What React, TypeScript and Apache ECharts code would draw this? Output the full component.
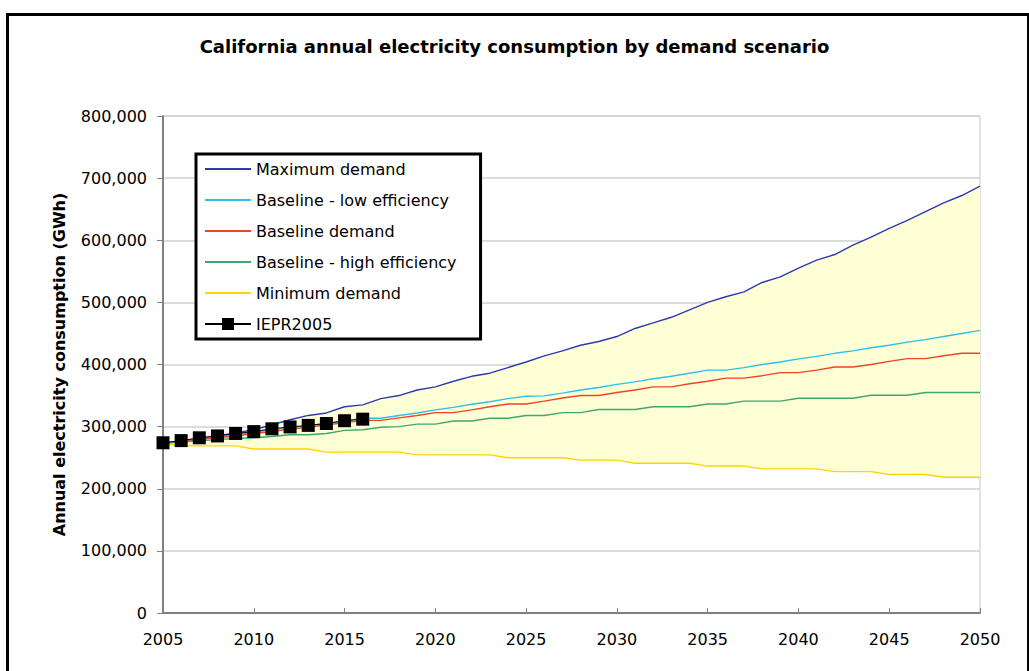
import React, { useEffect, useRef } from "react";
import * as echarts from "echarts";

const years = [
  2005, 2006, 2007, 2008, 2009, 2010, 2011, 2012, 2013, 2014, 2015, 2016,
  2017, 2018, 2019, 2020, 2021, 2022, 2023, 2024, 2025, 2026, 2027, 2028,
  2029, 2030, 2031, 2032, 2033, 2034, 2035, 2036, 2037, 2038, 2039, 2040,
  2041, 2042, 2043, 2044, 2045, 2046, 2047, 2048, 2049, 2050,
];

const maximumDemand = [
  273000, 277000, 281000, 285000, 290000, 295000, 303000, 311000, 318000, 322000,
  332000, 335000, 345000, 350000, 359000, 364000, 373000, 381000, 386000, 395000,
  404000, 414000, 422000, 431000, 437000, 445000, 458000, 467000, 476000, 488000,
  500000, 509000, 517000, 532000, 541000, 555000, 568000, 577000, 592000, 605000,
  619000, 632000, 646000, 660000, 672000, 687000,
];

const baselineLowEfficiency = [
  273000, 277000, 280000, 284000, 287000, 291000, 295000, 298000, 302000, 305000,
  309000, 313500, 313500, 318000, 322000, 327000, 331000, 336000, 340000, 345000,
  349000, 349500, 354000, 359000, 363000, 368000, 372000, 377000, 381000, 386000,
  391000, 391000, 395000, 400000, 404000, 409000, 413000, 418000, 422000, 427000,
  431000, 436000, 440000, 445000, 450000, 455000,
];

const baselineDemand = [
  273000, 276000, 279000, 282000, 285000, 289000, 292000, 296000, 299000, 303000,
  306000, 310000, 310000, 314000, 318000, 322500, 322500, 327000, 332000, 336500,
  336500, 341000, 346000, 350000, 350000, 355000, 359000, 364000, 364000, 369000,
  373000, 378000, 378000, 382000, 387000, 387000, 391000, 396000, 396000, 400000,
  405000, 409500, 409500, 414000, 418000, 418000,
];

const baselineHighEfficiency = [
  273000, 275000, 277000, 279000, 281000, 282000, 284000, 287000, 287000, 289000,
  294000, 295000, 299000, 300000, 304000, 304000, 309000, 309000, 313500, 313500,
  318000, 318000, 322500, 322500, 327500, 327500, 327500, 332000, 332000, 332000,
  336500, 336500, 341000, 341000, 341000, 345700, 345700, 345700, 345700, 350500,
  350500, 350500, 355000, 355000, 355000, 355000,
];

const minimumDemand = [
  273000, 269000, 269000, 269000, 269000, 264000, 264000, 264000, 264000, 259000,
  259000, 259000, 259000, 259000, 254500, 254500, 254500, 254500, 254500, 250000,
  250000, 250000, 250000, 246000, 246000, 246000, 241000, 241000, 241000, 241000,
  236500, 236500, 236500, 232000, 232000, 232000, 232000, 227500, 227500, 227500,
  223000, 223000, 223000, 218500, 218500, 218500,
];

const ieprYears = [2005, 2006, 2007, 2008, 2009, 2010, 2011, 2012, 2013, 2014, 2015, 2016];
const iepr2005 = [
  274000, 277500, 282000, 285000, 289000, 292000, 296500, 299500, 302000, 305000,
  309500, 312000,
];

const seriesNames = [
  "Maximum demand",
  "Baseline - low efficiency",
  "Baseline demand",
  "Baseline - high efficiency",
  "Minimum demand",
  "IEPR2005",
];

const FONT = "DejaVu Sans";

function pairs(xs: number[], ys: number[]) {
  return ys.map((v, i) => [xs[i], v]);
}

function lineSeries(name: string, data: number[], color: string) {
  return {
    name,
    type: "line",
    data: pairs(years, data),
    symbol: "none",
    showSymbol: false,
    lineStyle: { color, width: 1.4 },
    itemStyle: { color },
    z: 3,
  };
}

export default function App() {
  const ref = useRef<HTMLDivElement>(null);

  useEffect(() => {
    if (!ref.current) return;
    const chart = echarts.init(ref.current, undefined, { renderer: "svg" });
    const bandRows = years.map((y, i) => [y, minimumDemand[i], maximumDemand[i]]);

    chart.setOption({
      animation: false,
      backgroundColor: "#ffffff",
      title: {
        text: "California annual electricity consumption by demand scenario",
        left: "center",
        top: 32,
        textStyle: { fontFamily: FONT, fontWeight: "bold", fontSize: 18, color: "#000" },
      },
      grid: {
        left: 163,
        right: 49,
        top: 116,
        bottom: 58,
        show: true,
        borderColor: "#c4c4c4",
        borderWidth: 1,
        backgroundColor: "transparent",
      },
      legend: {
        orient: "vertical",
        left: 196,
        top: 154,
        data: seriesNames.map((n, i) =>
          i < 5 ? { name: n, itemStyle: { opacity: 0 } } : { name: n }
        ),
        itemWidth: 46,
        itemHeight: 15,
        itemGap: 11,
        padding: [5, 24, 5, 8],
        borderColor: "#000",
        borderWidth: 3,
        backgroundColor: "#fff",
        textStyle: { fontFamily: FONT, fontSize: 16, color: "#000", lineHeight: 20 },
      },
      xAxis: {
        type: "value",
        min: 2005,
        max: 2050,
        interval: 5,
        axisLine: { show: true, onZero: false, lineStyle: { color: "#808080", width: 2 } },
        axisTick: { show: true, inside: true, length: 5, lineStyle: { color: "#808080", width: 1 } },
        axisLabel: {
          margin: 18,
          color: "#000",
          fontFamily: FONT,
          fontSize: 16,
          formatter: (v: number) => String(v),
        },
        splitLine: { show: false },
      },
      yAxis: {
        type: "value",
        min: 0,
        max: 800000,
        interval: 100000,
        name: "Annual electricity consumption (GWh)",
        nameLocation: "middle",
        nameGap: 96,
        nameRotate: 90,
        nameTextStyle: { fontFamily: FONT, fontWeight: "bold", fontSize: 16, color: "#000" },
        axisLine: { show: true, lineStyle: { color: "#808080", width: 2 } },
        axisTick: { show: true, inside: false, length: 6, lineStyle: { color: "#808080", width: 1 } },
        axisLabel: {
          margin: 16,
          color: "#000",
          fontFamily: FONT,
          fontSize: 16,
          formatter: (v: number) => v.toLocaleString("en-US"),
        },
        splitLine: { show: true, lineStyle: { color: "#d0d0d0", width: 1.5 } },
      },
      series: [
        {
          name: "band",
          type: "custom",
          data: bandRows,
          encode: { x: 0, y: [1, 2] },
          silent: true,
          z: 1,
          renderItem: (params: any, api: any) => {
            if (params.dataIndex !== 0) return null;
            const upper = bandRows.map((r) => api.coord([r[0], r[2]]));
            const lower = bandRows
              .slice()
              .reverse()
              .map((r) => api.coord([r[0], r[1]]));
            return {
              type: "polygon",
              shape: { points: upper.concat(lower) },
              style: { fill: "#FFFFD6", stroke: "none" },
            };
          },
        },
        lineSeries(seriesNames[0], maximumDemand, "#2E3BAA"),
        lineSeries(seriesNames[1], baselineLowEfficiency, "#2EC0EC"),
        lineSeries(seriesNames[2], baselineDemand, "#EE4422"),
        lineSeries(seriesNames[3], baselineHighEfficiency, "#3DA86E"),
        lineSeries(seriesNames[4], minimumDemand, "#FFD500"),
        {
          name: seriesNames[5],
          type: "line",
          data: pairs(ieprYears, iepr2005),
          symbol: "rect",
          symbolSize: 13,
          showSymbol: true,
          lineStyle: { color: "#000", width: 1 },
          itemStyle: { color: "#000" },
          z: 4,
        },
      ],
      graphic: [
        {
          type: "rect",
          left: 5,
          top: 12,
          shape: { x: 0, y: 0, width: 1021, height: 720 },
          style: { fill: "none", stroke: "#000", lineWidth: 3 },
          silent: true,
          z: 10,
        },
      ],
    });

    return () => chart.dispose();
  }, []);

  return (
    <div
      ref={ref}
      style={{ position: "fixed", left: 0, top: 0, width: 1029, height: 671 }}
    />
  );
}
